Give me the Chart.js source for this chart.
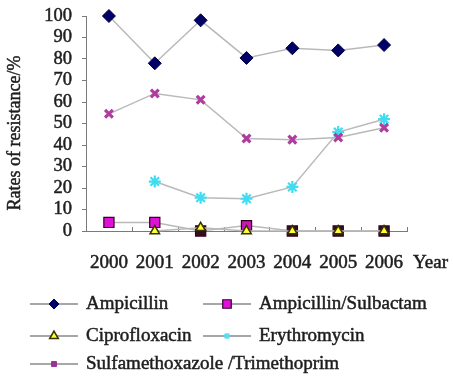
<!DOCTYPE html>
<html>
<head>
<meta charset="utf-8">
<script src="https://cdn.jsdelivr.net/npm/chart.js@4.4.0/dist/chart.umd.min.js"></script>
<style>
  html, body { margin: 0; padding: 0; background: #fff; }
  #wrap { width: 453px; height: 382px; }
</style>
</head>
<body>
<div id="wrap"><canvas id="c" width="453" height="382"></canvas></div>
<script>
// Resistance rates (%) by year
const years = ['2000', '2001', '2002', '2003', '2004', '2005', '2006'];
const ampicillin = [100, 78, 98, 80.5, 85, 84, 86.5];
const ampicillinSulbactam = [4, 4, 0, 2.5, 0, 0, 0];
const ciprofloxacin = [null, 0, 1.5, 0, 0, 0, 0];
const erythromycin = [null, 23, 15.5, 15, 20.5, 46, 52];
const sulfaTrimethoprim = [54.5, 64, 61, 43, 42.5, 43.5, 48];
const yTickStep = 10;
const yMin = 0, yMax = 100;

const seriesNames = ['Ampicillin', 'Ampicillin/Sulbactam', 'Ciprofloxacin', 'Erythromycin', 'Sulfamethoxazole /Trimethoprim'];
const yTitle = 'Rates of resistance/%';
const xTitle = 'Year';

const SERIF = "'Liberation Serif', 'Times New Roman', serif";
const LINE = '#b9b9b9';
const AXIS = '#7a7a7a';
const TEXT = '#1e1e1e';
const TEXT_STROKE = 0.5;

// marker used for each series in the key below the plot
const keyMarkers = [
  { style: 'rectRot', radius: 5, fill: '#000066', stroke: '#000066', width: 1 },
  { style: 'rect', radius: 6, fill: '#e010d8', stroke: '#330033', width: 1.2 },
  { style: 'triangle', radius: 5, fill: '#ffff33', stroke: '#333300', width: 1.5 },
  { style: 'rect', radius: 3, fill: '#55e0f0', stroke: '#55e0f0', width: 1 },
  { style: 'rect', radius: 3.5, fill: '#993399', stroke: '#993399', width: 1 }
];
const keyPos = [
  { x: 30, y: 304 }, { x: 203, y: 304 },
  { x: 30, y: 336 }, { x: 203, y: 336 },
  { x: 30, y: 364 }
];

function boldText(ctx, s, x, y) {
  ctx.fillStyle = TEXT;
  ctx.strokeStyle = TEXT;
  ctx.lineWidth = TEXT_STROKE;
  ctx.fillText(s, x, y);
  ctx.strokeText(s, x, y);
}

const textPlugin = {
  id: 'seriesKey',
  afterDraw(chart) {
    const ctx = chart.ctx;
    ctx.save();
    ctx.font = '19px ' + SERIF;
    ctx.textBaseline = 'middle';
    ctx.textAlign = 'left';
    chart.data.datasets.forEach((ds, i) => {
      const p = keyPos[i];
      const m = keyMarkers[i];
      ctx.strokeStyle = '#8a8a8a';
      ctx.lineWidth = 1.3;
      ctx.beginPath();
      ctx.moveTo(p.x, p.y);
      ctx.lineTo(p.x + 48, p.y);
      ctx.stroke();
      ctx.fillStyle = m.fill;
      ctx.strokeStyle = m.stroke;
      ctx.lineWidth = m.width;
      Chart.helpers.drawPoint(ctx, { pointStyle: m.style, radius: m.radius, rotation: 0, borderWidth: m.width }, p.x + 24, p.y);
      boldText(ctx, ds.label, p.x + 56, p.y);
    });
    // x axis caption
    const xs = chart.scales.x;
    boldText(ctx, xTitle, xs.right + 6, 263);
    // rotated y axis caption
    ctx.font = '18px ' + SERIF;
    ctx.translate(15, 133);
    ctx.rotate(-Math.PI / 2);
    ctx.textAlign = 'center';
    boldText(ctx, yTitle, 0, 0);
    ctx.restore();
  }
};

// short inward tick marks on the category boundaries of the x axis
const xTickPlugin = {
  id: 'xInwardTicks',
  beforeDatasetsDraw(chart) {
    const xs = chart.scales.x;
    const n = years.length;
    const half = (xs.getPixelForValue(1) - xs.getPixelForValue(0)) / 2;
    const ctx = chart.ctx;
    ctx.save();
    ctx.strokeStyle = AXIS;
    ctx.lineWidth = 1;
    for (let i = 0; i <= n; i++) {
      const x = Math.round(xs.getPixelForValue(0) - half + i * 2 * half) + 0.5;
      ctx.beginPath();
      ctx.moveTo(x, xs.top);
      ctx.lineTo(x, xs.top - 4);
      ctx.stroke();
    }
    ctx.restore();
  }
};

const common = { borderColor: LINE, borderWidth: 1.5, fill: false, tension: 0, spanGaps: false };

new Chart(document.getElementById('c'), {
  type: 'line',
  data: {
    labels: years,
    datasets: [
      Object.assign({}, common, {
        label: seriesNames[0], data: ampicillin, order: 1,
        pointStyle: 'rectRot', pointRadius: 6.5, pointBackgroundColor: '#000066', pointBorderColor: '#000044', pointBorderWidth: 1
      }),
      Object.assign({}, common, {
        label: seriesNames[1], data: ampicillinSulbactam, order: 5,
        pointStyle: 'rect', pointRadius: 7.2,
        pointBackgroundColor: ['#e010d8', '#e010d8', '#3a0a20', '#c818b8', '#3a0a20', '#3a0a20', '#3a0a20'],
        pointBorderColor: '#330022', pointBorderWidth: 1.2
      }),
      Object.assign({}, common, {
        label: seriesNames[2], data: ciprofloxacin, order: 4,
        pointStyle: 'triangle', pointRadius: 5.5, pointBackgroundColor: '#ffff33', pointBorderColor: '#333300', pointBorderWidth: 1.5
      }),
      Object.assign({}, common, {
        label: seriesNames[3], data: erythromycin, order: 3,
        pointStyle: 'star', pointRadius: 6, pointBackgroundColor: '#40ddf0', pointBorderColor: '#40ddf0', pointBorderWidth: 2.2
      }),
      Object.assign({}, common, {
        label: seriesNames[4], data: sulfaTrimethoprim, order: 2,
        pointStyle: 'crossRot', pointRadius: 5.5, pointBackgroundColor: '#aa3399', pointBorderColor: '#b03ca0', pointBorderWidth: 3.2
      })
    ]
  },
  options: {
    responsive: false,
    devicePixelRatio: 1,
    animation: false,
    clip: false,
    layout: { padding: { top: 16, right: 46, bottom: 0, left: 3 } },
    plugins: {
      legend: { display: false },
      tooltip: { enabled: false },
      title: { display: false }
    },
    scales: {
      x: {
        type: 'category',
        offset: true,
        grid: { display: false, drawTicks: false },
        border: { display: true, color: AXIS, width: 1 },
        ticks: { font: { family: SERIF, size: 19 }, color: TEXT, textStrokeColor: TEXT, textStrokeWidth: TEXT_STROKE, padding: 21, maxRotation: 0, autoSkip: false },
        afterFit(scale) { scale.height = 151; scale.paddingLeft = 0; scale.paddingRight = 0; }
      },
      y: {
        min: yMin, max: yMax,
        grid: { drawOnChartArea: false, drawTicks: true, tickLength: 4, color: AXIS },
        border: { display: true, color: AXIS, width: 1 },
        ticks: { stepSize: yTickStep, autoSkip: false, font: { family: SERIF, size: 18.5 }, color: TEXT, textStrokeColor: TEXT, textStrokeWidth: TEXT_STROKE, padding: 10 },
        afterFit(scale) { scale.width = 83; scale.paddingTop = 0; scale.paddingBottom = 0; }
      }
    }
  },
  plugins: [xTickPlugin, textPlugin]
});
</script>
</body>
</html>
